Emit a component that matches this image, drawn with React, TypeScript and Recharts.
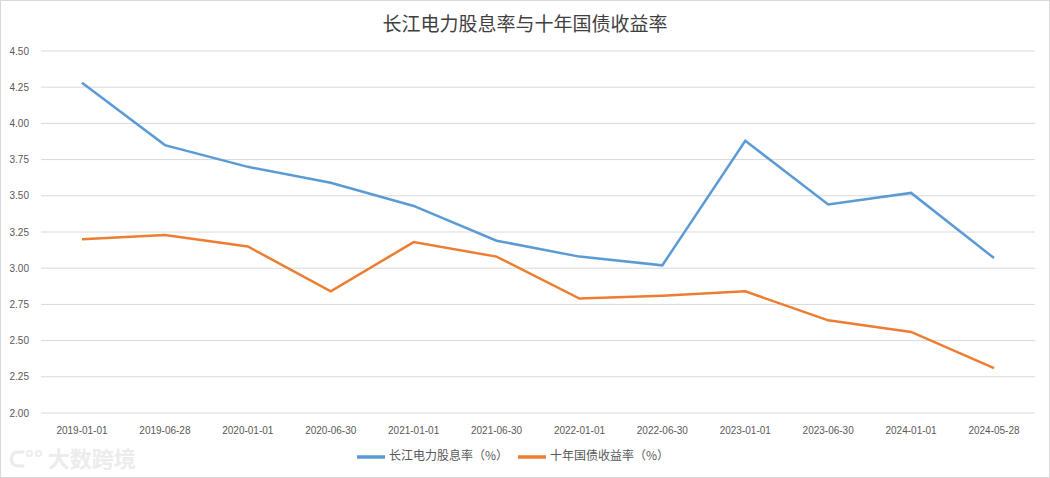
import { LineChart, Line, XAxis, YAxis, CartesianGrid, Legend } from 'recharts'

const dates = [
  '2019-01-01', '2019-06-28', '2020-01-01', '2020-06-30', '2021-01-01', '2021-06-30',
  '2022-01-01', '2022-06-30', '2023-01-01', '2023-06-30', '2024-01-01', '2024-05-28',
]
const dividendYield = [4.28, 3.85, 3.7, 3.59, 3.43, 3.19, 3.08, 3.02, 3.88, 3.44, 3.52, 3.07]
const bondYield = [3.2, 3.23, 3.15, 2.84, 3.18, 3.08, 2.79, 2.81, 2.84, 2.64, 2.56, 2.31]
const yTicks = [2, 2.25, 2.5, 2.75, 3, 3.25, 3.5, 3.75, 4, 4.25, 4.5]

const data = dates.map((d, i) => ({
  date: d,
  s1: dividendYield[i],
  s2: bondYield[i],
}))

const FONT = '"Liberation Sans", "Noto Sans CJK SC", sans-serif'

export default function App() {
  return (
    <div
      style={{
        position: 'absolute',
        left: 0,
        top: 0,
        width: 1050,
        height: 478,
        background: '#fff',
        boxSizing: 'border-box',
        border: '1px solid #d9d9d9',
        fontFamily: FONT,
      }}
    >
      <div
        style={{
          position: 'absolute',
          top: 8,
          left: 0,
          width: '100%',
          textAlign: 'center',
          fontSize: 19,
          color: '#404040',
          fontFamily: '"Noto Sans CJK SC", sans-serif',
        }}
      >
        长江电力股息率与十年国债收益率
      </div>
      <div
        style={{
          position: 'absolute',
          left: 8,
          top: 440,
          fontSize: 22,
          color: '#ececec',
          fontFamily: '"Noto Sans CJK SC", sans-serif',
          fontWeight: 'bold',
        }}
      >
        ᑕ°° 大数跨境
      </div>
      <LineChart
        width={1048}
        height={476}
        data={data}
        margin={{ top: 50, right: 14, bottom: 0, left: 0 }}
        style={{ position: 'absolute', left: 0, top: 0 }}
      >
        <CartesianGrid vertical={false} stroke="#d9d9d9" />
        <XAxis
          dataKey="date"
          axisLine={false}
          tickLine={false}
          interval={0}
          padding={{ left: 41, right: 41 }}
          tick={{ fontSize: 10, fill: '#595959', fontFamily: FONT }}
          tickMargin={8}
          height={30}
        />
        <YAxis
          domain={[2, 4.5]}
          ticks={yTicks}
          axisLine={false}
          tickLine={false}
          width={40}
          tickFormatter={(v: number) => v.toFixed(2)}
          tick={{ fontSize: 10, fill: '#595959', fontFamily: FONT }}
          tickMargin={6}
        />
        <Legend
          verticalAlign="bottom"
          height={34}
          iconType="plainline"
          iconSize={28}
          itemSorter="dataKey"
          wrapperStyle={{ fontSize: 12, color: '#595959', fontFamily: '"Noto Sans CJK SC", sans-serif' }}
          formatter={(value) => <span style={{ color: '#595959' }}>{value}</span>}
        />
        <Line
          type="linear"
          dataKey="s1"
          name="长江电力股息率（%）"
          stroke="#5B9BD5"
          strokeWidth={2.5}
          dot={false}
          isAnimationActive={false}
        />
        <Line
          type="linear"
          dataKey="s2"
          name="十年国债收益率（%）"
          stroke="#ED7D31"
          strokeWidth={2.5}
          dot={false}
          isAnimationActive={false}
        />
      </LineChart>
    </div>
  )
}
